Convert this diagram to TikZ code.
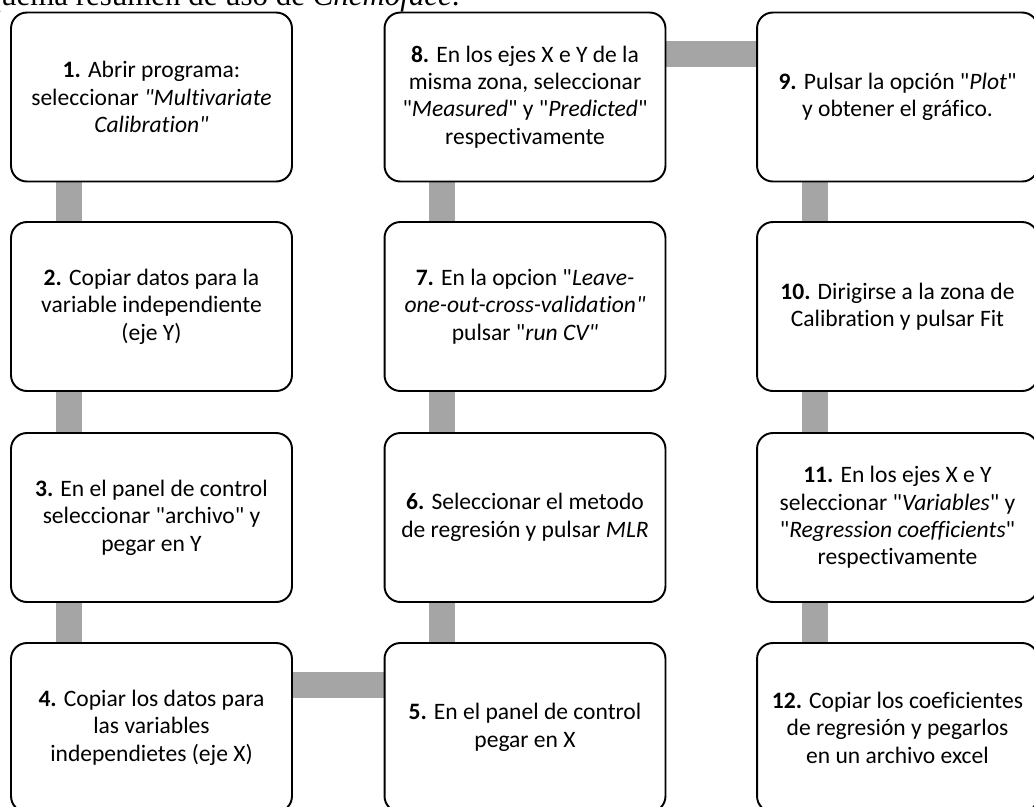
\documentclass[tikz,border=0pt]{standalone}
\usepackage{fontspec}
\setmainfont{Carlito}[Ligatures={TeXOff,NoCommon}]
\newfontfamily\titlefont{Liberation Serif}
\usetikzlibrary{backgrounds}
\definecolor{linkgray}{HTML}{A5A5A5}

\begin{document}
\begin{tikzpicture}[x=0.02cm,y=-0.02cm,
  stepbox/.style={draw,line width=1.1pt,rounded corners=9pt,fill=white,minimum width=5.62cm,minimum height=3.38cm,align=center,inner sep=2pt,font=\fontsize{13.4}{15.6}\selectfont},
  link/.style={line width=0.52cm,color=linkgray}]
\useasboundingbox (0,0) rectangle (1034,806);
\clip (0,0) rectangle (1034,806);
% title, cut at the top
\node[anchor=base east,inner sep=0pt,font=\titlefont\fontsize{17.6}{20}\selectfont] (title) at (460,5) {Esquema resumen de uso de \textit{Chemoface}.};
% first column
\node[stepbox] (p1) at (151.5,97) {\textbf{1.} Abrir programa:\\ seleccionar \textit{"Multivariate}\\ \textit{Calibration"}};
\node[stepbox] (p2) at (151.5,306.5) {\textbf{2.} Copiar datos para la\\ variable independiente\\ (eje Y)};
\node[stepbox] (p3) at (151.5,517.5) {\textbf{3.} En el panel de control\\ seleccionar "archivo" y\\ pegar en Y};
\node[stepbox] (p4) at (151.5,727.5) {\textbf{4.} Copiar los datos para\\ las variables\\ independietes (eje X)};
% second column
\node[stepbox] (p5) at (525,727.5) {\textbf{5.} En el panel de control\\ pegar en X};
\node[stepbox] (p6) at (525,517.5) {\textbf{6.} Seleccionar el metodo\\ de regresión y pulsar \textit{MLR}};
\node[stepbox] (p7) at (525,306.5) {\textbf{7.} En la opcion "\textit{Leave-}\\ \textit{one-out-cross-validation"}\\ pulsar "\textit{run CV"}};
\node[stepbox] (p8) at (525,97) {\textbf{8.} En los ejes X e Y de la\\ misma zona, seleccionar\\ "\textit{Measured}" y "\textit{Predicted}"\\ respectivamente};
% third column
\node[stepbox] (p9) at (897.5,97) {\textbf{9.} Pulsar la opción "\textit{Plot}"\\ y obtener el gráfico.};
\node[stepbox] (p10) at (897.5,306.5) {\textbf{10.} Dirigirse a la zona de\\ Calibration y pulsar Fit};
\node[stepbox] (p11) at (897.5,517.5) {\textbf{11.} En los ejes X e Y\\ seleccionar "\textit{Variables}" y\\ "\textit{Regression coefficients}"\\ respectivamente};
\node[stepbox] (p12) at (897.5,727.5) {\textbf{12.} Copiar los coeficientes\\ de regresión y pegarlos\\ en un archivo excel};
% grey bars behind the boxes
\begin{scope}[on background layer]
\foreach \a/\b in {p1/p2,p2/p3,p3/p4,p6/p5,p7/p6,p8/p7,p9/p10,p10/p11,p11/p12}
  \draw[link] ([xshift=-1.66cm]\a.center) -- ([xshift=-1.66cm]\b.center);
\draw[link] ([yshift=0.86cm]p4.center) -- ([yshift=0.86cm]p5.center);
\draw[link] ([yshift=0.86cm]p8.center) -- ([yshift=0.86cm]p9.center);
\end{scope}
\end{tikzpicture}
\end{document}
